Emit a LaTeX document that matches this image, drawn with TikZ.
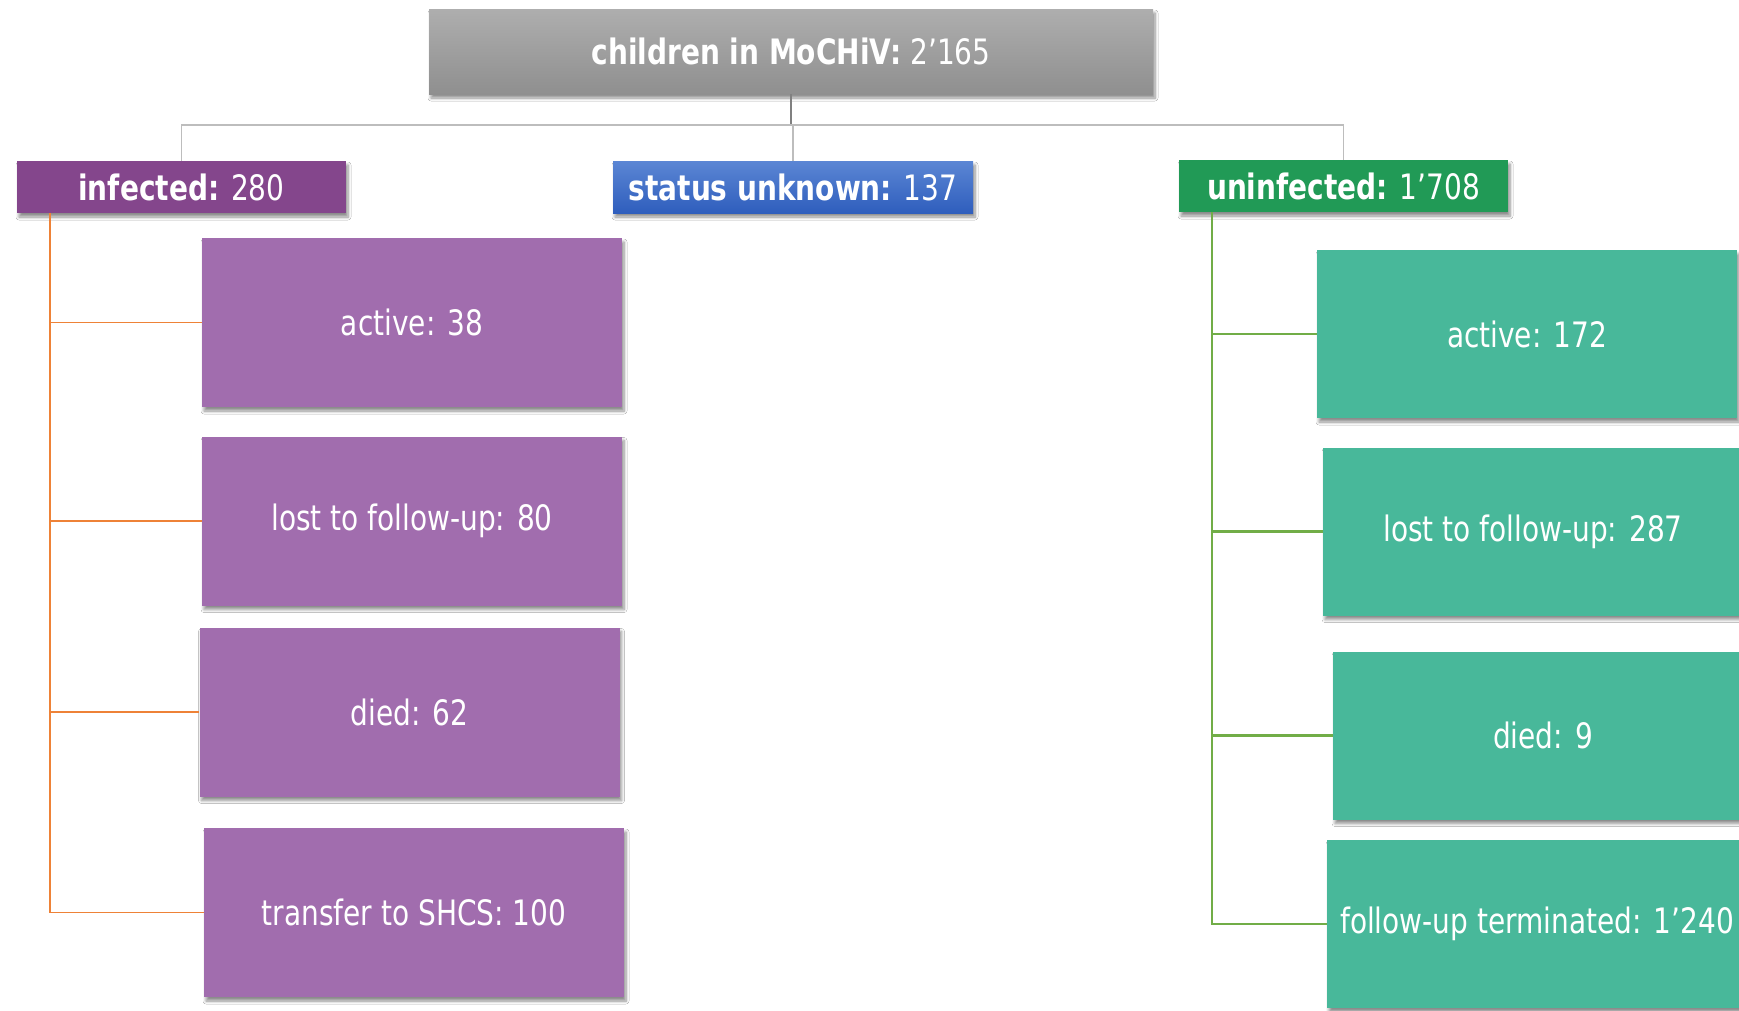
\documentclass[tikz,border=0pt]{standalone}
\usepackage{fontspec}
\setmainfont{DejaVu Sans}[FakeStretch=0.8]
\usetikzlibrary{shadows,shadows.blur}
\definecolor{topA}{HTML}{AEAEAE}
\definecolor{topB}{HTML}{8F8F8F}
\definecolor{infc}{HTML}{84468C}
\definecolor{stA}{HTML}{5B86D4}
\definecolor{stB}{HTML}{2F5EBD}
\definecolor{uninfc}{HTML}{219A56}
\definecolor{pchild}{HTML}{A16DAE}
\definecolor{gchild}{HTML}{48B89A}
\definecolor{oline}{HTML}{EE8237}
\definecolor{gline}{HTML}{71AD47}
\definecolor{grayA}{HTML}{808080}
\definecolor{grayB}{HTML}{BDBDBD}
\tikzset{
  shad/.style={blur shadow={shadow xshift=2pt,shadow yshift=-4pt,shadow blur steps=6,shadow blur radius=3pt,shadow opacity=45}},
  headbox/.style={shad,inner sep=0pt,text=white,font=\fontsize{35}{40}\selectfont,minimum height=52pt},
  childbox/.style={shad,inner sep=0pt,text=white,font=\fontsize{35}{40}\selectfont,minimum width=420pt,minimum height=169pt},
  pbox/.style={childbox,fill=pchild},
  gbox/.style={childbox,fill=gchild},
  oconn/.style={draw=oline,line width=1.8pt},
  gconn/.style={draw=gline,line width=2.6pt},
}
\begin{document}
\begin{tikzpicture}[x=1pt,y=-1pt]
\useasboundingbox (0,0) rectangle (1739,1010);
\clip (0,0) rectangle (1739,1010);
\fill[white] (0,0) rectangle (1739,1010);
% top
\node[headbox,top color=topA,bottom color=topB,minimum width=724pt,minimum height=85pt] (top) at (791,51.5) {\textbf{children in MoCHiV:} 2’165};
\node[headbox,fill=infc,minimum width=329pt] (inf) at (181.5,187) {\textbf{infected:} 280};
\node[headbox,top color=stA,bottom color=stB,minimum width=360pt] (stat) at (793,187) {\textbf{status unknown:} 137};
\node[headbox,fill=uninfc,minimum width=329pt] (uninf) at (1343.5,186) {\textbf{uninfected:} 1’708};
% top connectors
\draw[draw=grayA,line width=1.4pt] (top.south) -- ++(0,31) coordinate (j);
\draw[draw=grayB,line width=1.6pt] (inf.north) |- (j) -| (uninf.north);
\draw[draw=grayB,line width=1.4pt] (stat.north) -- (stat.north |- j);
% infected children
\node[pbox] (ia) at (412,322.5) {active: 38};
\node[pbox] (il) at (412,521) {lost to follow-up: 80};
\node[pbox] (id) at (409.5,712) {died: 62};
\node[pbox] (it) at (414,912.5) {transfer to SHCS: 100};
\coordinate (itrunk) at ([xshift=33pt]inf.south west);
\draw[oconn] (itrunk) |- (it.west);
\draw[oconn] (itrunk |- ia.west) -- (ia.west);
\draw[oconn] (itrunk |- il.west) -- (il.west);
\draw[oconn] (itrunk |- id.west) -- (id.west);
% uninfected children
\node[gbox,minimum height=168pt] (ua) at (1527,334) {active: 172};
\node[gbox,minimum height=168pt] (ul) at (1533,531.5) {lost to follow-up: 287};
\node[gbox,minimum height=168pt] (ud) at (1543,735.5) {died: 9};
\node[gbox,minimum height=168pt] (uf) at (1537,924) {follow-up terminated: 1’240};
\coordinate (utrunk) at ([xshift=33pt]uninf.south west);
\draw[gconn] (utrunk) |- (uf.west);
\draw[gconn] (utrunk |- ua.west) -- (ua.west);
\draw[gconn] (utrunk |- ul.west) -- (ul.west);
\draw[gconn] (utrunk |- ud.west) -- (ud.west);
\end{tikzpicture}
\end{document}
